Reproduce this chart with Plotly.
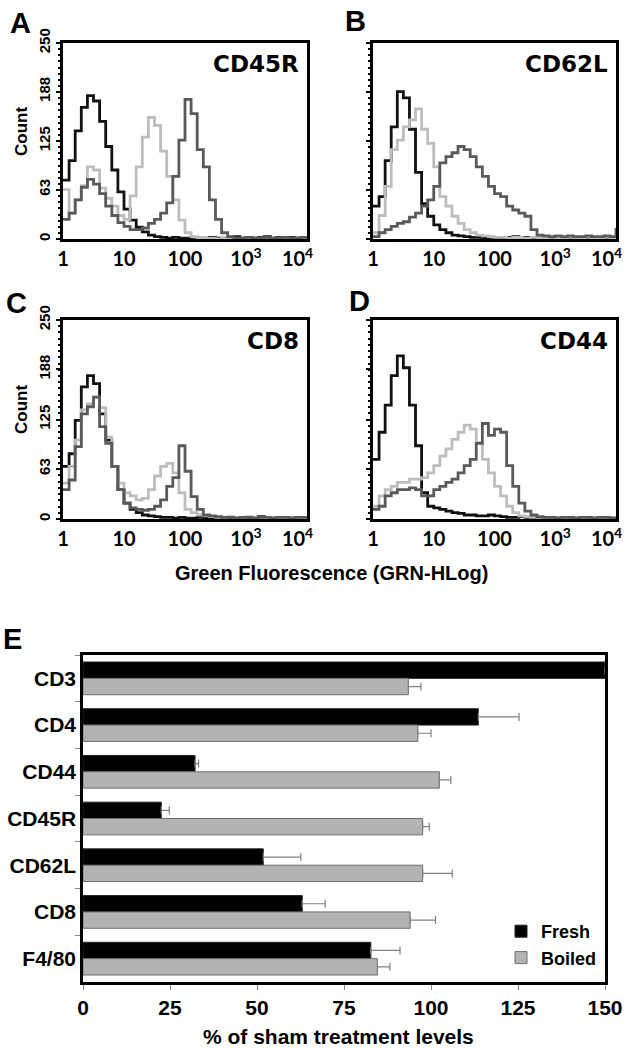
import plotly.graph_objects as go

# ---------------- data ----------------
LOG_POS = [0.0, 0.1, 0.2, 0.3, 0.4, 0.5, 0.6, 0.7, 0.8, 0.9,
           1.0, 1.1, 1.2, 1.3, 1.4, 1.5, 1.6, 1.7, 1.8, 1.9,
           2.0, 2.1, 2.2, 2.3, 2.4, 2.5, 2.6, 2.7, 2.8, 2.9,
           3.0, 3.1, 3.2, 3.3, 3.4, 3.5, 3.6, 3.7, 3.8, 3.9, 4.0]

A_black = [75, 100, 138, 168, 183, 176, 150, 118, 88, 60,
           38, 24, 15, 9, 5, 3, 2, 1, 2, 1,
           1, 2, 1, 1, 2, 1, 1, 2, 3, 1,
           2, 1, 2, 3, 1, 2, 1, 2, 1, 2, 3]
A_light = [63, 33, 50, 68, 92, 88, 65, 52, 42, 30,
           25, 55, 92, 130, 155, 145, 112, 80, 50, 24,
           8, 3, 1, 1, 1, 0, 1, 1, 0, 1,
           1, 0, 1, 1, 0, 1, 1, 0, 1, 1, 2]
A_dark = [25, 33, 50, 66, 76, 70, 58, 42, 30, 21,
          16, 12, 12, 14, 20, 25, 33, 46, 80, 126,
          178, 160, 114, 92, 50, 25, 8, 3, 1, 1,
          2, 1, 1, 2, 1, 1, 2, 1, 1, 2, 2]

B_black = [42, 54, 100, 143, 188, 180, 140, 85, 45, 29,
           18, 12, 8, 5, 4, 3, 2, 2, 1, 2,
           1, 1, 2, 3, 1, 2, 1, 1, 2, 1,
           1, 2, 1, 1, 2, 1, 1, 2, 1, 1, 2]
B_light = [8, 30, 67, 114, 126, 143, 152, 166, 140, 122,
           92, 54, 42, 29, 20, 12, 8, 5, 4, 3,
           2, 2, 1, 2, 1, 1, 2, 1, 1, 2,
           1, 1, 2, 1, 1, 2, 1, 1, 2, 1, 2]
B_dark = [3, 8, 12, 16, 20, 22, 28, 33, 42, 50,
          67, 97, 105, 110, 118, 114, 105, 92, 80, 67,
          58, 54, 42, 37, 33, 29, 12, 5, 4, 3,
          4, 3, 4, 3, 3, 4, 3, 3, 4, 3, 14]

C_black = [66, 82, 124, 166, 180, 170, 132, 99, 66, 37,
           20, 12, 8, 5, 4, 3, 2, 2, 1, 2,
           1, 1, 2, 1, 1, 2, 1, 1, 2, 1,
           1, 2, 3, 1, 1, 2, 1, 1, 2, 1, 3]
C_light = [45, 66, 99, 137, 145, 153, 140, 103, 66, 45,
           33, 29, 24, 26, 37, 54, 66, 70, 58, 33,
           12, 8, 5, 4, 3, 2, 2, 3, 2, 2,
           3, 2, 2, 1, 2, 2, 1, 2, 2, 1, 2]
C_dark = [37, 49, 91, 132, 141, 153, 116, 95, 66, 37,
          20, 14, 12, 11, 12, 16, 24, 41, 52, 92,
          60, 28, 12, 5, 4, 3, 2, 2, 1, 2,
          2, 1, 2, 2, 1, 2, 2, 1, 2, 2, 3]

D_black = [75, 109, 143, 180, 205, 190, 143, 92, 33, 16,
           14, 12, 10, 8, 7, 5, 5, 4, 4, 5,
           4, 3, 2, 2, 3, 2, 1, 2, 2, 1,
           2, 2, 1, 2, 2, 1, 2, 2, 1, 2, 3]
D_light = [16, 29, 37, 41, 46, 46, 50, 50, 52, 58,
           67, 79, 88, 100, 109, 118, 113, 96, 75, 58,
           41, 29, 16, 8, 4, 3, 2, 2, 1, 2,
           2, 1, 2, 2, 1, 2, 2, 1, 2, 2, 2]
D_dark = [12, 16, 29, 33, 37, 37, 39, 37, 29, 29,
          37, 41, 46, 50, 58, 67, 75, 95, 120, 105,
          113, 109, 67, 41, 20, 10, 5, 3, 2, 2,
          1, 2, 2, 1, 2, 2, 1, 2, 2, 1, 2]

PANEL_TITLES = ["CD45R", "CD62L", "CD8", "CD44"]
PANEL_LETTERS = ["A", "B", "C", "D"]
Y_TICKS = [0, 63, 125, 188, 250]
# label positions as placed in the original figure (the 10^4 label sits just inside the frame)
X_TICKVALS = [1, 10, 100, 1000, 7000]
X_TICKTEXT = ["1", "10", "100", "10<sup>3</sup>", "10<sup>4</sup>"]

CATEGORIES = ["CD3", "CD4", "CD44", "CD45R", "CD62L", "CD8", "F4/80"]
FRESH = [150, 113.6, 32.2, 22.5, 51.8, 63.0, 82.7]
FRESH_ERR = [0, 11.7, 1.0, 2.3, 10.8, 6.6, 8.4]
BOILED = [93.5, 96.2, 102.4, 97.6, 97.6, 94.0, 84.6]
BOILED_ERR = [3.6, 3.8, 3.3, 1.9, 8.5, 7.3, 3.6]
E_TICKS = [0, 25, 50, 75, 100, 125, 150]

# ---------------- layout helpers ----------------
W, H = 630, 1050


def px(x):
    return x / W


def py(y):
    return 1 - y / H


ARIAL = "Liberation Sans, Arial, sans-serif"
GILL = "Lato, Open Sans, sans-serif"
WIDE = "DejaVu Sans, Verdana, sans-serif"

fig = go.Figure()

hist_sets = [
    (A_black, A_light, A_dark),
    (B_black, B_light, B_dark),
    (C_black, C_light, C_dark),
    (D_black, D_light, D_dark),
]
colors = ["#111111", "#bdbdbd", "#5a5a5a"]
xs = [10 ** v for v in LOG_POS]

# domains (in pixels): left, right, top, bottom
domains = [
    (63, 307, 43, 239),
    (373, 616, 43, 239),
    (63, 307, 320, 519),
    (373, 616, 320, 519),
]

for i, (series, dom) in enumerate(zip(hist_sets, domains)):
    ax = "" if i == 0 else str(i + 1)
    for vals, col in zip(series, colors):
        fig.add_trace(go.Scatter(
            x=xs, y=vals, mode="lines", line=dict(color=col, width=2.8, shape="hv"),
            xaxis="x" + ax, yaxis="y" + ax, showlegend=False, hoverinfo="skip"))
    l, r, t, b = dom
    fig.layout["xaxis" + ax] = dict(
        domain=[px(l), px(r)], anchor="y" + ax, type="log", range=[0, 4],
        tickvals=X_TICKVALS, ticktext=X_TICKTEXT, ticks="",
        tickfont=dict(family=GILL, size=20, color="black", weight="bold"),
        ticklabeloverflow="allow", ticklabelstandoff=0,
        showline=True, linewidth=3, linecolor="black", mirror=True,
        showgrid=False, zeroline=False, fixedrange=True, automargin=False)
    fig.layout["yaxis" + ax] = dict(
        domain=[py(b), py(t)], anchor="x" + ax, range=[0, 250],
        tickvals=Y_TICKS, ticks="outside", ticklen=4, tickwidth=1.5, tickcolor="black",
        showticklabels=(i % 2 == 0), tickangle=-90,
        tickfont=dict(family=ARIAL, size=15, color="black", weight="bold"),
        ticklabeloverflow="allow",
        minor=dict(ticks="outside", ticklen=2, tickcolor="black", dtick=7.8125),
        showline=True, linewidth=3, linecolor="black", mirror=True,
        showgrid=False, zeroline=False, fixedrange=True, automargin=False)
    fig.add_annotation(
        text="<b>%s</b>" % PANEL_TITLES[i], xref="x%s domain" % ax, yref="y%s domain" % ax,
        x=0.975, y=0.895, xanchor="right", yanchor="middle", showarrow=False,
        font=dict(family=WIDE, size=23, color="black"))

# panel letters
for letter, (x, y) in zip(PANEL_LETTERS + ["E"], [(20, 23), (355, 21), (16, 303), (359, 301), (12, 639)]):
    fig.add_annotation(text="<b>%s</b>" % letter, xref="paper", yref="paper", x=px(x), y=py(y),
                       xanchor="center", yanchor="middle", showarrow=False,
                       font=dict(family=ARIAL, size=29, color="black"))

for y in (132, 410):
    fig.add_annotation(text="<b>Count</b>", xref="paper", yref="paper", x=px(22), y=py(y),
                       textangle=-90, xanchor="center", yanchor="middle", showarrow=False,
                       font=dict(family=ARIAL, size=17, color="black"))

fig.add_annotation(text="<b>Green Fluorescence (GRN-HLog)</b>", xref="paper", yref="paper",
                   x=px(331), y=py(573), xanchor="center", yanchor="middle", showarrow=False,
                   font=dict(family=ARIAL, size=20, color="black"))

# ---------------- panel E ----------------
fig.add_trace(go.Bar(
    name="Fresh", y=CATEGORIES, x=FRESH, orientation="h",
    marker=dict(color="black", line=dict(color="#222222", width=1)),
    error_x=dict(type="data", array=FRESH_ERR, arrayminus=[0] * len(FRESH_ERR), symmetric=False,
                 color="#808080", thickness=1.2, width=4),
    xaxis="x5", yaxis="y5", hoverinfo="skip"))
fig.add_trace(go.Bar(
    name="Boiled", y=CATEGORIES, x=BOILED, orientation="h",
    marker=dict(color="#b3b3b3", line=dict(color="#6e6e6e", width=1)),
    error_x=dict(type="data", array=BOILED_ERR, arrayminus=[0] * len(BOILED_ERR), symmetric=False,
                 color="#808080", thickness=1.2, width=4),
    xaxis="x5", yaxis="y5", hoverinfo="skip"))

fig.update_layout(
    xaxis5=dict(domain=[px(83), px(605)], anchor="y5", range=[0, 150], tickvals=E_TICKS,
                ticks="outside", ticklen=5, tickcolor="#888888",
                tickfont=dict(family=ARIAL, size=21, color="black", weight="bold"),
                ticklabeloverflow="allow",
                showline=True, linewidth=2.5, linecolor="black", mirror=True,
                showgrid=False, zeroline=False, fixedrange=True, automargin=False),
    yaxis5=dict(domain=[py(982), py(655)], anchor="x5", autorange="reversed",
                type="category", categoryorder="array", categoryarray=CATEGORIES,
                ticks="outside", tickson="boundaries", ticklen=5, tickcolor="#888888",
                tickfont=dict(family=ARIAL, size=21, color="black", weight="bold"),
                ticklabeloverflow="allow",
                showline=True, linewidth=2.5, linecolor="black", mirror=True,
                showgrid=False, zeroline=False, fixedrange=True, automargin=False),
    barmode="group", bargap=0.3, bargroupgap=0,
)

fig.add_annotation(text="<b>% of sham treatment levels</b>", xref="paper", yref="paper",
                   x=px(338), y=py(1036), xanchor="center", yanchor="middle", showarrow=False,
                   font=dict(family=ARIAL, size=21, color="black"))

fig.update_layout(
    width=W, height=H, margin=dict(l=0, r=0, t=0, b=0),
    paper_bgcolor="white", plot_bgcolor="white",
    showlegend=True,
    legend=dict(x=px(501), y=py(913), xanchor="left", yanchor="top",
                bgcolor="rgba(0,0,0,0)", font=dict(family=ARIAL, size=18, color="black", weight="bold"),
                itemwidth=30, tracegroupgap=2),
)

fig.write_html("out.html", config={"displayModeBar": False},
               post_script="document.body.style.margin='0px';document.body.style.overflow='hidden';")
